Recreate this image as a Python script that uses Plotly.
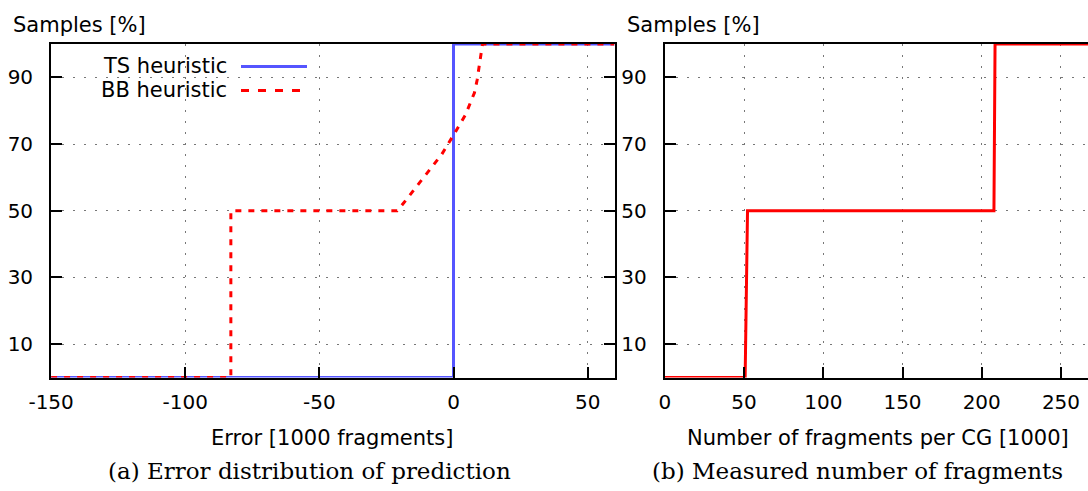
import plotly.graph_objects as go

# ---------------- data ----------------
ts_x = [-150, 0, 0, 60]
ts_y = [0, 0, 100, 100]

bb_x = [-150, -83, -83, -21, -19.5, -14.5, -9.3, -4.4, 0, 2.2, 4.4, 6.2, 7.8, 8.8, 9.7, 10.3, 10.8, 60]
bb_y = [0, 0, 50, 50, 51.4, 56.5, 61.7, 66.9, 72.7, 75.7, 78.7, 82.2, 85.4, 89.2, 93.7, 97.2, 100, 100]

frag_x = [0, 50.7, 52.2, 207.7, 208.4, 270]
frag_y = [0, 0, 50, 50, 100, 100]

left_xticks = [-150, -100, -50, 0, 50]
left_xlabels = ["-150", "-100", "-50", "0", "50"]
right_xticks = [0, 50, 100, 150, 200, 250]
right_xlabels = ["0", "50", "100", "150", "200", "250"]
yticks = [10, 30, 50, 70, 90]
ylabels = ["10", "30", "50", "70", "90"]

W, H = 1088, 491
def px(x):
    return x / W
def py(y):
    return 1 - y / H

FONT = "DejaVu Sans"
SERIF = "DejaVu Serif"

fig = go.Figure()
fig.add_trace(go.Scatter(x=ts_x, y=ts_y, mode="lines", name="TS heuristic",
                         line=dict(color="rgb(85,85,255)", width=3), xaxis="x", yaxis="y"))
fig.add_trace(go.Scatter(x=bb_x, y=bb_y, mode="lines", name="BB heuristic",
                         line=dict(color="red", width=3, dash="6px,7px"), xaxis="x", yaxis="y"))
fig.add_trace(go.Scatter(x=frag_x, y=frag_y, mode="lines", name="fragments",
                         line=dict(color="red", width=3), xaxis="x2", yaxis="y2"))

common_axis = dict(
    showline=True, linecolor="black", linewidth=2,
    ticks="inside", ticklen=11, tickwidth=2, tickcolor="black",
    showgrid=True, gridcolor="#777777", gridwidth=1, griddash="2px,9px",
    zeroline=False, automargin=False,
    tickfont=dict(family=FONT, size=20, color="black"),
)

left_dom = [px(51.1), px(614.5)]
right_dom = [px(664.8), 1.0]
ydom = [py(377.5), py(44)]

fig.update_layout(
    width=W, height=H, margin=dict(l=0, r=0, t=0, b=0, autoexpand=False),
    paper_bgcolor="white", plot_bgcolor="white", showlegend=False,
    xaxis=dict(domain=left_dom, range=[-150, 60], tickvals=left_xticks, ticktext=left_xlabels,
               anchor="y", mirror=True, ticklabelstandoff=5, **common_axis),
    yaxis=dict(domain=ydom, range=[0, 100], tickvals=yticks, ticktext=ylabels, anchor="x",
               mirror="ticks", ticklabelstandoff=12, **common_axis),
    xaxis2=dict(domain=right_dom, range=[0, (1088 - 664.8) / 1.5847], tickvals=right_xticks,
                ticktext=right_xlabels, anchor="y2", mirror=True, ticklabelstandoff=5, **common_axis),
    yaxis2=dict(domain=ydom, range=[0, 100], tickvals=yticks, ticktext=ylabels, anchor="x2",
                mirror=False, ticklabelstandoff=12, **common_axis),
    yaxis3=dict(overlaying="y2", side="right", anchor="x2", range=[0, 100], tickvals=yticks,
                ticks="inside", ticklen=6, tickwidth=2, tickcolor="black", automargin=False,
                showticklabels=False, showgrid=False, showline=False, zeroline=False),
)

ann_font = dict(family=FONT, size=21, color="black")
cap_font = dict(family=SERIF, size=23, color="black")
annotations = [
    dict(text="Samples [%]", x=px(11), y=py(25), xanchor="left", yanchor="middle", font=ann_font),
    dict(text="Samples [%]", x=px(625), y=py(25), xanchor="left", yanchor="middle", font=ann_font),
    dict(text="Error [1000 fragments]", x=px(332), y=py(438), xanchor="center", yanchor="middle", font=ann_font),
    dict(text="Number of fragments per CG [1000]", x=px(878), y=py(438), xanchor="center", yanchor="middle", font=ann_font),
    dict(text="(a) Error distribution of prediction", x=px(309), y=py(471), xanchor="center", yanchor="middle", font=cap_font),
    dict(text="(b) Measured number of fragments", x=px(857), y=py(471), xanchor="center", yanchor="middle", font=cap_font),
    dict(text="TS heuristic", x=px(229), y=py(66), xanchor="right", yanchor="middle", font=ann_font),
    dict(text="BB heuristic", x=px(229), y=py(90), xanchor="right", yanchor="middle", font=ann_font),
]
for a in annotations:
    a.update(xref="paper", yref="paper", showarrow=False)
fig.update_layout(annotations=annotations)

fig.add_shape(type="line", xref="paper", yref="paper", x0=px(241), x1=px(307), y0=py(66.5), y1=py(66.5),
              line=dict(color="rgb(85,85,255)", width=3))
fig.add_shape(type="line", xref="paper", yref="paper", x0=px(241), x1=px(300), y0=py(90.5), y1=py(90.5),
              line=dict(color="red", width=3, dash="8px,9px"))

fig.write_html("out.html")
